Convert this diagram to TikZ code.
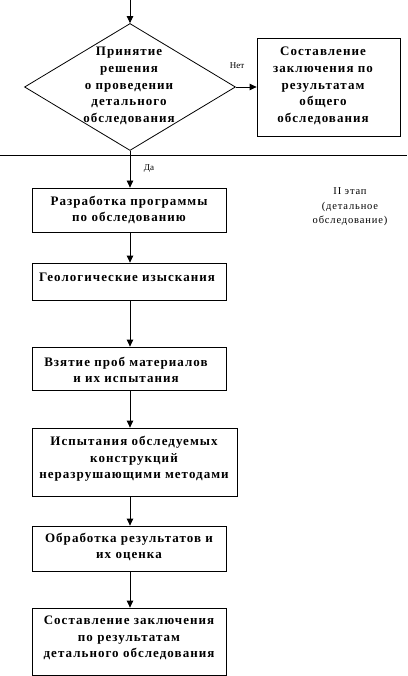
\documentclass[tikz,border=0pt]{standalone}
\usepackage{fontspec}
\setmainfont{Liberation Serif}
\newfontfamily\boxfont[LetterSpace=8]{Liberation Serif}
\usetikzlibrary{shapes.geometric,arrows.meta}
\begin{document}
\begin{tikzpicture}[x=1pt,y=-1pt,
  line width=0.8pt,
  every node/.style={inner sep=0pt},
  boxtext/.style={align=center,font=\boxfont\fontsize{13}{16.7}\selectfont\bfseries},
  stepbox/.style={draw,line width=0.8pt},
  arr/.style={-{Triangle[width=6.5pt,length=7pt]}},
  small/.style={font=\boxfont\fontsize{10.5}{14.5}\selectfont,align=center},
  tiny/.style={font=\fontsize{9}{11}\selectfont}]
\useasboundingbox (0,0) rectangle (407,676);
\coordinate (top) at (130,0);
\node[diamond,draw,minimum width=211pt,minimum height=127pt] (dec) at (130,87) {};
\node[boxtext] (dect) at (129,86) {Принятие\\решения\\о проведении\\детального\\обследования};
\node[stepbox,minimum width=143pt,minimum height=98pt] (r) at (328.5,87) {};
\node[boxtext] (rt) at (323,86) {Составление\\заключения по\\результатам\\общего\\обследования};
\node[tiny] (net) at (237,66) {Нет};
\node[tiny] (da) at (149,169) {Да};
\draw (0,155) -- (407,155);
\node[stepbox,minimum width=194pt,minimum height=44pt] (b1) at (129,210) {};
\node[boxtext] at (b1) {Разработка программы\\по обследованию};
\node[stepbox,minimum width=194pt,minimum height=37pt] (b2) at (129,281.5) {};
\node[boxtext] at (127,277) {Геологические изыскания};
\node[stepbox,minimum width=194pt,minimum height=43pt] (b3) at (129,368.5) {};
\node[boxtext] at (126,370) {Взятие проб материалов\\и их испытания};
\node[stepbox,minimum width=205pt,minimum height=68pt] (b4) at (134.5,462) {};
\node[boxtext] at (134,459) {Испытания обследуемых\\конструкций\\неразрушающими методами};
\node[stepbox,minimum width=194pt,minimum height=45pt] (b5) at (129,548.5) {};
\node[boxtext] at (129,547) {Обработка результатов и\\их оценка};
\node[stepbox,minimum width=194pt,minimum height=67pt] (b6) at (129,641.5) {};
\node[boxtext] at (129,638) {Составление заключения\\по результатам\\детального обследования};
\node[small] (stage) at (350,207) {II этап\\(детальное\\обследование)};
\draw[arr] (top) -- (dec.north);
\draw[arr] (dec.east) -- (r.west);
\draw[arr] (dec.south) -- (dec.south |- b1.north);
\draw[arr] (dec.south |- b1.south) -- (dec.south |- b2.north);
\draw[arr] (dec.south |- b2.south) -- (dec.south |- b3.north);
\draw[arr] (dec.south |- b3.south) -- (dec.south |- b4.north);
\draw[arr] (dec.south |- b4.south) -- (dec.south |- b5.north);
\draw[arr] (dec.south |- b5.south) -- (dec.south |- b6.north);
\end{tikzpicture}
\end{document}
